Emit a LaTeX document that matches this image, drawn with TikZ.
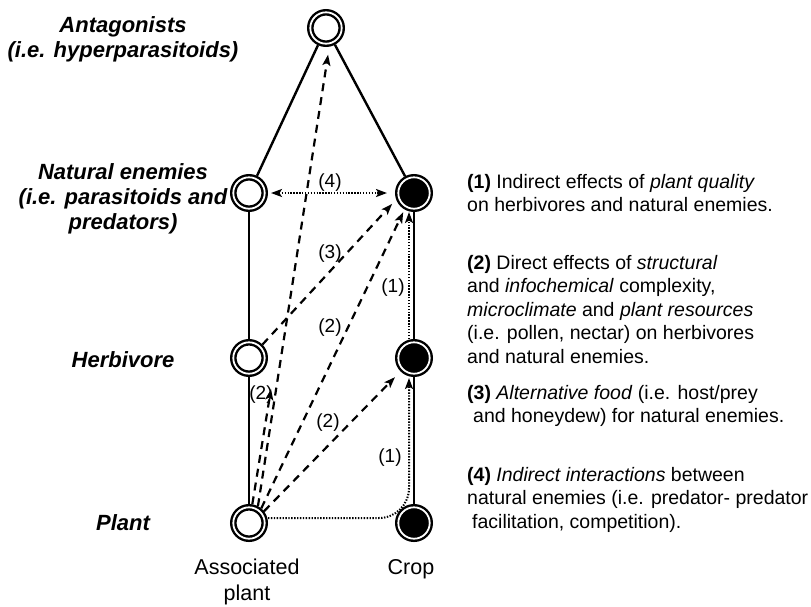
\documentclass[tikz,border=0pt]{standalone}
\usepackage{fontspec}
\setmainfont{Liberation Sans}
\usetikzlibrary{arrows.meta}
\begin{document}
\begin{tikzpicture}[x=1pt,y=-1pt,
  ring/.style={circle, draw=black, line width=2.4pt, double=white, double distance=1.8pt,
    minimum size=31.4pt, inner sep=0pt, outer sep=3.3pt},
  openc/.style={ring, fill=white},
  fullc/.style={ring, fill=black},
  tip/.style={-{Stealth[length=11pt,width=8pt,inset=2.5pt]}},
  solidln/.style={line width=2.4pt},
  dashln/.style={line width=2.2pt, dash pattern=on 8pt off 6pt, tip},
  dotln/.style={line width=2pt, dash pattern=on 1.4pt off 1.5pt, tip},
  lab/.style={font=\fontsize{22}{25}\selectfont\bfseries\itshape, align=center, anchor=north, inner sep=0pt},
  bot/.style={font=\fontsize{21.5}{26}\selectfont, align=center, anchor=north, inner sep=0pt},
  desc/.style={font=\fontsize{19.5}{23.5}\selectfont, align=left, anchor=north west, inner sep=0pt},
  num/.style={font=\fontsize{19}{22}\selectfont, inner sep=0pt}
]
\useasboundingbox (0,0) rectangle (811,606);

% circles
\node[openc] (top)    at (326,28)  {};
\node[openc] (NEL)    at (249,193) {};
\node[fullc] (NER)    at (414,193) {};
\node[openc] (herbL)  at (249,358) {};
\node[fullc] (herbR)  at (414,358) {};
\node[openc] (plantL) at (249,523) {};
\node[fullc] (crop)   at (414,523) {};
\coordinate (h2) at (271,389);

% solid links
\draw[solidln] (top) -- (NEL);
\draw[solidln] (top) -- (NER);
\draw[solidln] (NEL) -- (herbL);
\draw[solidln] (herbL) -- (plantL);
\draw[solidln] (crop) -- (herbR);
\draw[solidln] (herbR) -- (NER);

% dotted arrows
\draw[dotln, {Stealth[length=11pt,width=8pt,inset=2.5pt]}-{Stealth[length=11pt,width=8pt,inset=2.5pt]}, shorten <=3pt, shorten >=8pt] (NEL) -- (NER);
\draw[dotln] ([xshift=-5pt]herbR.north) -- ([xshift=-5pt]NER.south);
\draw[dotln, rounded corners=30pt, shorten >=1pt] ([yshift=5pt]plantL.east) -| ([xshift=-5pt]herbR.south);

% dashed arrows
\draw[dashln, shorten >=8pt] (plantL.62) -- (top.-80);
\draw[dashln] (plantL.80) -- (h2);
\draw[dashln, shorten >=3pt] (plantL.50) -- (NER.-120);
\draw[dashln, shorten >=6pt] (herbL.45) -- (NER.-160);
\draw[dashln, shorten >=8pt] (plantL.38) -- (herbR.-135);

% numbers
\node[num] (n4)  at (330,183) {(4)};
\node[num] (n3)  at (330,254) {(3)};
\node[num] (n2a) at (330,328) {(2)};
\node[num] (n1a) at (393,288) {(1)};
\node[num] (n2b) at (261,395) {(2)};
\node[num] (n2c) at (328,423) {(2)};
\node[num] (n1b) at (390,458) {(1)};

% left labels
\node[lab] (antag)    at (123,16)  {Antagonists\\(i.e. hyperparasitoids)};
\node[lab] (natlab)   at (123,163) {Natural enemies\\(i.e. parasitoids and\\predators)};
\node[lab] (herblab)  at (123,351) {Herbivore};
\node[lab] (plantlab) at (123,514) {Plant};

% bottom labels
\node[bot] (assoc)   at (247,559) {Associated\\plant};
\node[bot] (croplab) at (411,559) {Crop};

% descriptions
\node[desc] (d1) at (467,174) {\textbf{(1)} Indirect effects of \textit{plant quality}\\on herbivores and natural enemies.};
\node[desc] (d2) at (467,255) {\textbf{(2)} Direct effects of \textit{structural}\\and \textit{infochemical} complexity,\\\textit{microclimate} and \textit{plant resources}\\(i.e. pollen, nectar) on herbivores\\and natural enemies.};
\node[desc] (d3) at (467,385) {\textbf{(3)} \textit{Alternative food} (i.e. host/prey\\\hspace*{6pt}and honeydew) for natural enemies.};
\node[desc] (d4) at (467,467) {\textbf{(4)} \textit{Indirect interactions} between\\natural enemies (i.e. predator- predator\\\hspace*{5pt}facilitation, competition).};
\end{tikzpicture}
\end{document}
